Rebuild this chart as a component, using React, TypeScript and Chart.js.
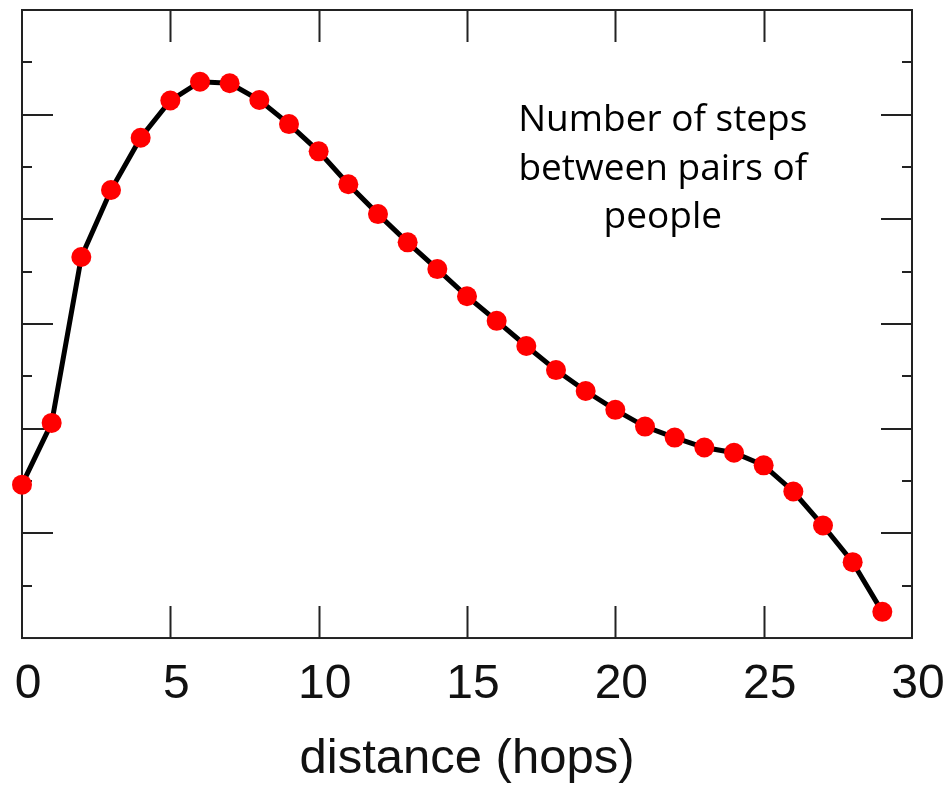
import { useEffect, useRef } from "react";
import { Chart, registerables } from "chart.js";

Chart.register(...registerables);

// ---- data ----
const hops = [0, 1, 2, 3, 4, 5, 6, 7, 8, 9, 10, 11, 12, 13, 14, 15, 16, 17, 18, 19, 20, 21, 22, 23, 24, 25, 26, 27, 28, 29];
const pairCounts = [2.93, 4.11, 7.28, 8.56, 9.56, 10.27, 10.63, 10.6, 10.28, 9.82, 9.3, 8.67, 8.1, 7.56, 7.05, 6.53, 6.06, 5.58, 5.12, 4.72, 4.36, 4.04, 3.83, 3.64, 3.54, 3.3, 2.8, 2.15, 1.45, 0.5];
const xTickValues = [0, 5, 10, 15, 20, 25, 30];
const yMajorTicks = [2, 4, 6, 8, 10];
const yMinorTicks = [1, 3, 5, 7, 9, 11];
const noteLines = ["Number of steps", "between pairs of", "people"];
const noteAnchor = { x: 21.6, y: 9.68 };
const xTitle = "distance (hops)";

const framePlugin = {
  id: "frameTicks",
  beforeDatasetsDraw(chart: any) {
    const { ctx, chartArea, scales } = chart;
    const { left, right, top, bottom } = chartArea;
    const x = scales.x;
    const y = scales.y;
    ctx.save();
    ctx.strokeStyle = "#222";
    ctx.lineWidth = 2;
    ctx.strokeRect(left, top, right - left, bottom - top);
    ctx.beginPath();
    xTickValues.forEach((v) => {
      if (v === 0 || v === 30) return;
      const px = Math.round(x.getPixelForValue(v)) + 0.5;
      ctx.moveTo(px, bottom);
      ctx.lineTo(px, bottom - 32);
      ctx.moveTo(px, top);
      ctx.lineTo(px, top + 32);
    });
    const drawY = (vals: number[], len: number) => {
      vals.forEach((v) => {
        const py = Math.round(y.getPixelForValue(v));
        ctx.moveTo(left, py);
        ctx.lineTo(left + len, py);
        ctx.moveTo(right, py);
        ctx.lineTo(right - len, py);
      });
    };
    drawY(yMajorTicks, 31);
    drawY(yMinorTicks, 10);
    ctx.stroke();

    // annotation
    ctx.fillStyle = "#000";
    ctx.font = '37px "Open Sans"';
    ctx.textAlign = "center";
    ctx.textBaseline = "alphabetic";
    const cx = x.getPixelForValue(noteAnchor.x);
    const cy = y.getPixelForValue(noteAnchor.y);
    noteLines.forEach((line, i) => {
      ctx.fillText(line, cx, cy + i * 48.5);
    });
    ctx.restore();
  },
};

export default function App() {
  const ref = useRef<HTMLCanvasElement | null>(null);
  useEffect(() => {
    if (!ref.current) return;
    const chart = new Chart(ref.current, {
      type: "line",
      data: {
        datasets: [
          {
            data: hops.map((h, i) => ({ x: h, y: pairCounts[i] })),
            borderColor: "#000",
            borderWidth: 5,
            pointRadius: 10,
            pointHoverRadius: 10,
            pointBackgroundColor: "#ff0000",
            pointBorderColor: "#ff0000",
            pointBorderWidth: 0,
            tension: 0,
            clip: false as any,
          },
        ],
      },
      options: {
        responsive: false,
        animation: false,
        events: [],
        layout: { padding: { left: 22, right: 35, top: 8, bottom: 0 } },
        plugins: { legend: { display: false }, tooltip: { enabled: false } },
        scales: {
          x: {
            type: "linear",
            min: 0,
            max: 30,
            afterBuildTicks: (axis: any) => {
              axis.ticks = xTickValues.map((v) => ({ value: v }));
            },
            afterFit: (axis: any) => {
              axis.paddingLeft = 0;
              axis.paddingRight = 0;
            },
            grid: { display: false, drawTicks: false },
            border: { display: false },
            ticks: {
              color: "#111",
              font: { family: '"Liberation Sans", Arial, sans-serif', size: 48 },
              padding: 18,
              labelOffset: 6,
              maxRotation: 0,
              autoSkip: false,
            },
            title: {
              display: true,
              text: xTitle,
              color: "#111",
              font: { family: '"Liberation Sans", Arial, sans-serif', size: 49, lineHeight: 1.13 },
              padding: { top: 0, bottom: 0 },
            },
          },
          y: {
            type: "linear",
            min: 0,
            max: 12,
            display: false,
          },
        },
      },
      plugins: [framePlugin],
    });
    return () => chart.destroy();
  }, []);
  return (
    <div style={{ position: "fixed", left: 0, top: 0, width: 947, height: 787, background: "#fff" }}>
      <canvas ref={ref} width={947} height={787} style={{ display: "block" }} />
    </div>
  );
}
